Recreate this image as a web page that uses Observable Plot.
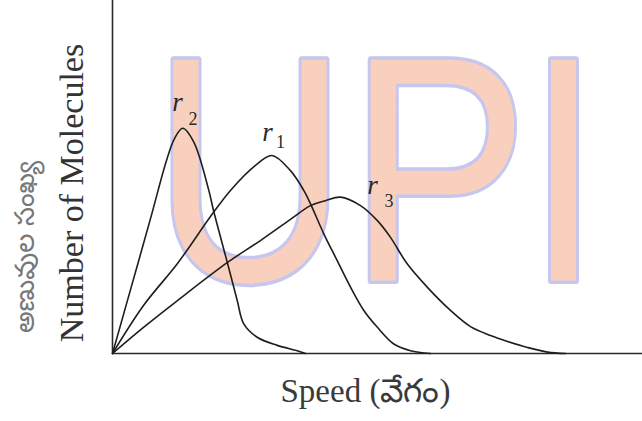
<!DOCTYPE html>
<html>
<head>
<meta charset="utf-8">
<script src="https://cdn.jsdelivr.net/npm/d3@7"></script>
<script src="https://cdn.jsdelivr.net/npm/@observablehq/plot@0.6"></script>
<style>
  html, body { margin: 0; padding: 0; background: #ffffff; }
  #chart { width: 642px; height: 421px; overflow: hidden; }
</style>
</head>
<body>
<div id="chart"></div>
<script>
// ---- Data (arbitrary units: speed 0..100, number of molecules 0..100) ----
const seriesNames = ["r1", "r2", "r3"];

const r1Speed = [0, 5.85, 12.26, 18.49, 22.26, 26.98, 30.09, 33.58, 36.09, 37.36, 39.87, 42.40, 44.91, 47.42, 49.94, 53.08, 56.23, 60.0];
const r1Count = [0, 13.6, 25.5, 38.8, 46.2, 53.3, 56.1, 51.8, 46.2, 42.4, 33.9, 26.3, 18.8, 12.2, 7.5, 2.7, 0.8, 0];

const r2Speed = [0, 3.40, 7.17, 10.19, 11.70, 13.26, 15.34, 18.17, 19.06, 21.64, 23.53, 24.77, 27.30, 31.08, 34.85, 36.42];
const r2Count = [0, 18.1, 38.2, 54.7, 60.9, 63.8, 59.9, 46.2, 40.5, 25.9, 15.0, 8.4, 4.6, 2.3, 0.8, 0];

const r3Speed = [0, 5.85, 12.26, 21.70, 27.92, 33.58, 37.36, 40.19, 43.02, 46.79, 49.94, 52.45, 55.60, 59.38, 63.77, 67.55, 71.32, 74.53, 78.30, 82.08, 85.47];
const r3Count = [0, 7.4, 15.0, 25.8, 32.0, 38.0, 41.9, 43.3, 44.3, 41.9, 37.7, 32.9, 25.4, 18.8, 12.2, 7.6, 5.1, 3.4, 1.7, 0.4, 0];

// curve labels: "r" with subscript
const labelBase = ["r", "r", "r"];
const labelSub = ["1", "2", "3"];
const labelX = [29.25, 12.26, 49.06];
const labelY = [60.3, 68.8, 45.3];
const subX = [31.70, 15.19, 52.17];
const subY = [58.1, 64.6, 41.4];

// axis titles
const yTitle = "Number of Molecules";
const yTitleTelugu = "అణువుల సంఖ్య";
const xTitle = "Speed (వేగం)";

// watermark letters
const watermarkLetters = ["U", "P", "I"];
const watermarkX = [25.94, 61.5, 85.09];
const watermarkY = [20.68, 20.68, 20.68];

// ---- Build tables ----
const curveRows = [
  ...r1Speed.map((s, i) => ({series: seriesNames[0], speed: s, count: r1Count[i]})),
  ...r2Speed.map((s, i) => ({series: seriesNames[1], speed: s, count: r2Count[i]})),
  ...r3Speed.map((s, i) => ({series: seriesNames[2], speed: s, count: r3Count[i]}))
];
const labelRows = labelBase.map((b, i) => ({base: b, sub: labelSub[i], x: labelX[i], y: labelY[i], sx: subX[i], sy: subY[i]}));
const wmRows = watermarkLetters.map((l, i) => ({letter: l, x: watermarkX[i], y: watermarkY[i]}));

const serif = "Liberation Serif, Times New Roman, serif";

const chart = Plot.plot({
  width: 642,
  height: 421,
  marginLeft: 112,
  marginRight: 0,
  marginTop: 0,
  marginBottom: 68,
  style: {background: "#ffffff", overflow: "visible"},
  x: {domain: [0, 100], axis: null},
  y: {domain: [0, 100], axis: null},
  marks: [
    // watermark
    Plot.text(wmRows, {
      x: "x", y: "y", text: "letter",
      fontFamily: "Liberation Sans, Arial, sans-serif",
      fontSize: 321,
      lineAnchor: "bottom",
      fill: "#f9d0bd",
      stroke: "#c6c6ee",
      strokeWidth: 7,
      paintOrder: "stroke"
    }),
    // axes
    Plot.ruleY([0], {stroke: "#2a2a2a", strokeWidth: 1.6}),
    Plot.ruleX([0], {stroke: "#2a2a2a", strokeWidth: 1.6}),
    // curves
    Plot.line(curveRows, {
      x: "speed", y: "count", z: "series",
      curve: "catmull-rom",
      stroke: "#1e1e1e",
      strokeWidth: 1.6
    }),
    // curve labels
    Plot.text(labelRows, {
      x: "x", y: "y", text: "base",
      fontFamily: serif, fontStyle: "italic", fontSize: 27,
      lineAnchor: "bottom", fill: "#2a2a2a"
    }),
    Plot.text(labelRows, {
      x: "sx", y: "sy", text: "sub",
      fontFamily: serif, fontSize: 18,
      lineAnchor: "bottom", fill: "#2a2a2a"
    }),
    // axis titles
    Plot.text([yTitle], {
      text: d => d, frameAnchor: "left", textAnchor: "middle", rotate: -90,
      dx: -40, dy: 16,
      fontFamily: serif, fontSize: 34, fill: "#333333"
    }),
    Plot.text([yTitleTelugu], {
      text: d => d, frameAnchor: "left", textAnchor: "middle", rotate: -90,
      dx: -87, dy: 70,
      fontFamily: "Noto Sans Telugu, Noto Sans, sans-serif", fontSize: 27, fill: "#777777"
    }),
    Plot.text([xTitle], {
      text: d => d, frameAnchor: "bottom", textAnchor: "start",
      dx: -97, dy: 48, lineAnchor: "bottom",
      fontFamily: serif, fontSize: 33, fill: "#3a3a3a"
    })
  ]
});

// narrow the watermark glyphs horizontally (the reference letters are condensed)
d3.select(chart).selectAll("text")
  .filter(function() {
    const g = this.closest("g");
    return g && g.getAttribute("font-size") === "321";
  })
  .each(function() {
    const t = this.getAttribute("transform") || "";
    const x = this.getAttribute("x"), y = this.getAttribute("y");
    if (x != null || y != null) {
      this.removeAttribute("x"); this.removeAttribute("y");
      this.setAttribute("transform", `${t} translate(${x || 0},${y || 0}) scale(0.84,1)`);
    } else {
      this.setAttribute("transform", `${t} scale(0.84,1)`);
    }
  });

document.getElementById("chart").appendChild(chart);
</script>
</body>
</html>
